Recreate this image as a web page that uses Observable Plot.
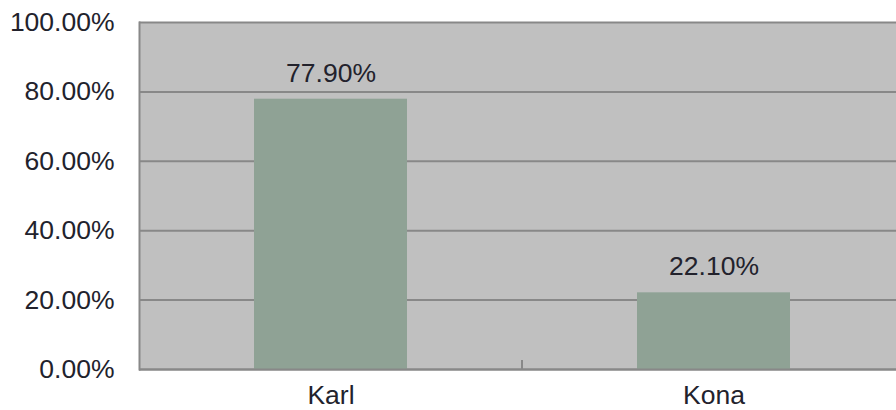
<!DOCTYPE html>
<html><head>
<meta charset="utf-8">
<script src="https://cdn.jsdelivr.net/npm/d3@7"></script>
<script src="https://cdn.jsdelivr.net/npm/@observablehq/plot@0.6"></script>
<style>body{margin:0;background:#fff}</style>
</head><body><div id="chart"></div>
<script>
const categories = ["Karl", "Kona"];
const values = [0.779, 0.221];
const yTicks = [0, 0.2, 0.4, 0.6, 0.8, 1.0];
const data = categories.map((c, i) => ({name: c, value: values[i]}));
const pct = d3.format(".2%");

const midTick = (index, scales, values, dims) => {
  const x = scales.x, y = scales.y;
  const bw = x.bandwidth ? x.bandwidth() : 0;
  const xm = (x(categories[0]) + x(categories[1])) / 2 + bw / 2;
  const y0 = y(0);
  const g = d3.create("svg:line")
    .attr("x1", xm).attr("x2", xm)
    .attr("y1", y0).attr("y2", y0 - 9)
    .attr("stroke", "#888").attr("stroke-width", 2);
  return g.node();
};

const chart = Plot.plot({
  width: 896, height: 410,
  marginTop: 22, marginBottom: 41, marginLeft: 139, marginRight: 0,
  style: {fontFamily: "'Liberation Sans', Arial, sans-serif", fontSize: "26.5px", color: "#22222c", background: "#fff"},
  x: {domain: categories, range: [139, 905], paddingInner: 0.6, paddingOuter: 0.3, label: null},
  y: {domain: [0, 1], ticks: yTicks, tickFormat: pct, label: null},
  marks: [
    Plot.frame({fill: "#c0c0c0", stroke: null}),
    Plot.gridY(yTicks, {stroke: "#888", strokeOpacity: 1, strokeWidth: 2}),
    Plot.barY(data, {x: "name", y: "value", fill: "#8fa295"}),
    Plot.ruleY([0], {stroke: "#888", strokeWidth: 2}),
    Plot.frame({anchor: "left", stroke: "#888", strokeWidth: 2}),
    midTick,
    Plot.text(data, {x: "name", y: "value", text: d => pct(d.value), dy: -26, fill: "#22222c", fontSize: 26.5}),
    Plot.axisY({ticks: yTicks, tickSize: 0, tickPadding: 25, tickFormat: pct, label: null}),
    Plot.axisX({tickSize: 0, tickPadding: 16, label: null})
  ]
});
document.getElementById("chart").appendChild(chart);
</script>
</body></html>
